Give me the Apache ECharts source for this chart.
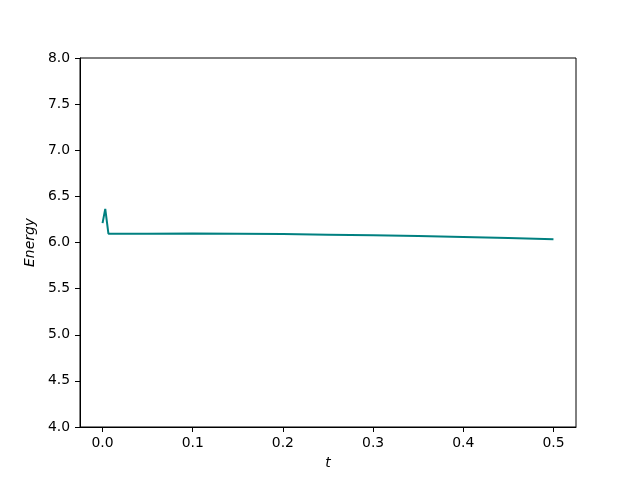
<!DOCTYPE html>
<html>
<head>
<meta charset="utf-8">
<script src="https://cdn.jsdelivr.net/npm/echarts@6/dist/echarts.min.js"></script>
<style>html,body{margin:0;padding:0;background:#fff}#c{width:640px;height:480px}</style>
</head>
<body>
<div id="c"></div>
<script>
const tValues = [0, 0.003, 0.0065, 0.05, 0.1, 0.15, 0.2, 0.25, 0.3, 0.35, 0.4, 0.45, 0.5];
const energyValues = [6.21, 6.365, 6.095, 6.096, 6.097, 6.095, 6.091, 6.085, 6.078, 6.07, 6.06, 6.048, 6.035];
const xTicks = [0, 0.1, 0.2, 0.3, 0.4, 0.5];
const yTicks = [4.0, 4.5, 5.0, 5.5, 6.0, 6.5, 7.0, 7.5, 8.0];

const chart = echarts.init(document.getElementById('c'));
const font = 'DejaVu Sans';
chart.setOption({
  animation: false,
  backgroundColor: '#fff',
  grid: {left: 80, right: 64, top: 58, bottom: 53, show: true, borderColor: '#000', borderWidth: 1, backgroundColor: 'transparent'},
  xAxis: {
    type: 'value', min: -0.025, max: 0.525,
    name: 't', nameLocation: 'middle', nameGap: 29,
    nameTextStyle: {fontFamily: font, fontSize: 13.9, fontStyle: 'italic', color: '#000'},
    axisLine: {show: true, onZero: false, lineStyle: {color: '#000', width: 1}},
    axisTick: {show: true, length: 5, customValues: xTicks, lineStyle: {color: '#000'}},
    axisLabel: {customValues: xTicks, fontFamily: font, fontSize: 13.9, color: '#000', margin: 9,
      formatter: v => v.toFixed(1)},
    splitLine: {show: false}
  },
  yAxis: {
    type: 'value', min: 4, max: 8, interval: 0.5,
    name: 'Energy', nameLocation: 'middle', nameGap: 41,
    nameTextStyle: {fontFamily: font, fontSize: 13.9, fontStyle: 'italic', color: '#000'},
    axisLine: {show: true, onZero: false, lineStyle: {color: '#000', width: 1}},
    axisTick: {show: true, length: 5, lineStyle: {color: '#000'}},
    axisLabel: {fontFamily: font, fontSize: 13.9, color: '#000', margin: 10,
      formatter: v => v.toFixed(1)},
    splitLine: {show: false}
  },
  series: [{
    type: 'line',
    data: tValues.map((t, i) => [t, energyValues[i]]),
    showSymbol: false,
    lineStyle: {color: '#008080', width: 2},
    itemStyle: {color: '#008080'}
  }]
});
</script>
</body>
</html>
